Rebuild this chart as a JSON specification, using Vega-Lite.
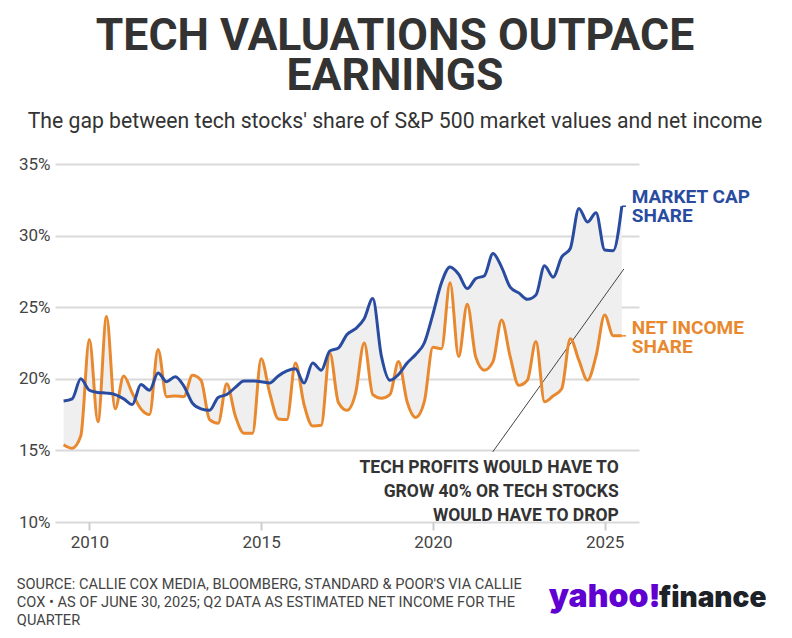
{
  "$schema": "https://vega.github.io/schema/vega-lite/v6.json",
  "autosize": "none",
  "width": 584,
  "height": 358,
  "padding": {"left": 55, "top": 164, "right": 153, "bottom": 116},
  "background": "white",
  "config": {
    "view": {"stroke": null},
    "font": "Roboto",
    "text": {"font": "Roboto"}
  },
  "title": {
    "text": ["TECH VALUATIONS OUTPACE", "EARNINGS"],
    "subtitle": "The gap between tech stocks' share of S&P 500 market values and net income",
    "anchor": "middle",
    "frame": "group",
    "dx": 48,
    "offset": 22,
    "font": "Roboto",
    "fontSize": 44.5,
    "fontWeight": "bold",
    "lineHeight": 40,
    "color": "#333333",
    "subtitleFont": "Roboto",
    "subtitleFontSize": 21.2,
    "subtitleColor": "#333333",
    "subtitlePadding": 11
  },
  "datasets": {
    "shares": [
      {"t": 2009.25, "mcap": 18.45, "ni": 15.4},
      {"t": 2009.5, "mcap": 18.6, "ni": 15.15},
      {"t": 2009.75, "mcap": 20.0, "ni": 16.0},
      {"t": 2010.0, "mcap": 19.2, "ni": 22.75},
      {"t": 2010.25, "mcap": 19.05, "ni": 17.0},
      {"t": 2010.5, "mcap": 19.0, "ni": 24.35},
      {"t": 2010.75, "mcap": 18.9, "ni": 17.9},
      {"t": 2011.0, "mcap": 18.6, "ni": 20.2},
      {"t": 2011.25, "mcap": 18.2, "ni": 19.0},
      {"t": 2011.5, "mcap": 19.6, "ni": 17.9},
      {"t": 2011.75, "mcap": 19.2, "ni": 17.5},
      {"t": 2012.0, "mcap": 20.4, "ni": 22.05},
      {"t": 2012.25, "mcap": 19.8, "ni": 18.75},
      {"t": 2012.5, "mcap": 20.15, "ni": 18.8},
      {"t": 2012.75, "mcap": 19.5, "ni": 18.75},
      {"t": 2013.0, "mcap": 18.3, "ni": 20.25},
      {"t": 2013.25, "mcap": 17.9, "ni": 19.9},
      {"t": 2013.5, "mcap": 17.8, "ni": 17.15},
      {"t": 2013.75, "mcap": 18.7, "ni": 16.9},
      {"t": 2014.0, "mcap": 18.9, "ni": 19.65},
      {"t": 2014.25, "mcap": 19.4, "ni": 17.4},
      {"t": 2014.5, "mcap": 19.85, "ni": 16.2},
      {"t": 2014.75, "mcap": 19.85, "ni": 16.2},
      {"t": 2015.0, "mcap": 19.8, "ni": 21.4},
      {"t": 2015.25, "mcap": 19.7, "ni": 19.0},
      {"t": 2015.5, "mcap": 20.2, "ni": 17.2},
      {"t": 2015.75, "mcap": 20.55, "ni": 17.15},
      {"t": 2016.0, "mcap": 20.7, "ni": 21.1},
      {"t": 2016.25, "mcap": 19.7, "ni": 18.2},
      {"t": 2016.5, "mcap": 21.1, "ni": 16.7},
      {"t": 2016.75, "mcap": 20.6, "ni": 16.75},
      {"t": 2017.0, "mcap": 21.95, "ni": 21.8},
      {"t": 2017.25, "mcap": 22.15, "ni": 18.35},
      {"t": 2017.5, "mcap": 23.1, "ni": 17.8},
      {"t": 2017.75, "mcap": 23.5, "ni": 19.0},
      {"t": 2018.0, "mcap": 24.2, "ni": 22.5},
      {"t": 2018.25, "mcap": 25.6, "ni": 18.9},
      {"t": 2018.5, "mcap": 21.6, "ni": 18.65},
      {"t": 2018.75, "mcap": 19.9, "ni": 18.9},
      {"t": 2019.0, "mcap": 20.3, "ni": 21.2},
      {"t": 2019.25, "mcap": 21.1, "ni": 18.4},
      {"t": 2019.5, "mcap": 21.7, "ni": 17.3},
      {"t": 2019.75, "mcap": 22.5, "ni": 18.4},
      {"t": 2020.0, "mcap": 24.5, "ni": 22.2},
      {"t": 2020.25, "mcap": 26.7, "ni": 22.1},
      {"t": 2020.5, "mcap": 27.8, "ni": 26.7},
      {"t": 2020.75, "mcap": 27.3, "ni": 21.55},
      {"t": 2021.0, "mcap": 26.3, "ni": 25.2},
      {"t": 2021.25, "mcap": 27.0, "ni": 21.5},
      {"t": 2021.5, "mcap": 27.2, "ni": 20.6},
      {"t": 2021.75, "mcap": 28.75, "ni": 21.2},
      {"t": 2022.0, "mcap": 27.8, "ni": 24.1},
      {"t": 2022.25, "mcap": 26.4, "ni": 21.55},
      {"t": 2022.5, "mcap": 26.0, "ni": 19.55},
      {"t": 2022.75, "mcap": 25.55, "ni": 19.9},
      {"t": 2023.0, "mcap": 25.85, "ni": 22.6},
      {"t": 2023.25, "mcap": 27.9, "ni": 18.4},
      {"t": 2023.5, "mcap": 27.1, "ni": 18.8},
      {"t": 2023.75, "mcap": 28.5, "ni": 19.3},
      {"t": 2024.0, "mcap": 29.1, "ni": 22.8},
      {"t": 2024.25, "mcap": 31.9, "ni": 21.3},
      {"t": 2024.5, "mcap": 30.95, "ni": 19.9},
      {"t": 2024.75, "mcap": 31.6, "ni": 21.6},
      {"t": 2025.0, "mcap": 29.0, "ni": 24.45},
      {"t": 2025.25, "mcap": 28.95, "ni": 23.0},
      {"t": 2025.5, "mcap": 32.05, "ni": 23.0}
    ]
  },
  "data": {"name": "shares"},
  "encoding": {
    "x": {
      "field": "t",
      "type": "quantitative",
      "scale": {"domain": [2009, 2026], "nice": false, "zero": false},
      "axis": {
        "title": null,
        "values": [2010, 2015, 2020, 2025],
        "format": "d",
        "grid": false,
        "domain": false,
        "ticks": true,
        "tickSize": 8,
        "tickWidth": 2,
        "tickColor": "#cccccc",
        "labelPadding": 4,
        "labelFont": "Roboto",
        "labelFontSize": 17,
        "labelColor": "#444444"
      }
    }
  },
  "layer": [
    {
      "mark": {"type": "area", "interpolate": "monotone", "color": "#efefef"},
      "encoding": {
        "y": {
          "field": "mcap",
          "type": "quantitative",
          "scale": {"domain": [10, 35], "nice": false, "zero": false},
          "axis": {
            "title": null,
            "values": [10, 15, 20, 25, 30, 35],
            "labelExpr": "datum.value + '%'",
            "grid": true,
            "gridColor": "#d9d9d9",
            "gridWidth": 2,
            "domain": false,
            "ticks": false,
            "labelPadding": 5,
            "labelFont": "Roboto",
            "labelFontSize": 17,
            "labelColor": "#444444"
          }
        },
        "y2": {"field": "ni"}
      }
    },
    {
      "transform": [{"filter": "datum.t == 2025.5"}],
      "mark": {"type": "rule", "color": "#444444", "strokeWidth": 1},
      "encoding": {
        "x": {"datum": 2021.74},
        "y": {"datum": 14.89},
        "x2": {"datum": 2025.56},
        "y2": {"datum": 27.67}
      }
    },
    {
      "mark": {"type": "line", "interpolate": "monotone", "color": "#e8892f", "strokeWidth": 3},
      "encoding": {"y": {"field": "ni", "type": "quantitative"}}
    },
    {
      "mark": {"type": "line", "interpolate": "monotone", "color": "#2a4ca0", "strokeWidth": 3},
      "encoding": {"y": {"field": "mcap", "type": "quantitative"}}
    },
    {
      "transform": [{"filter": "datum.t == 2025.5"}],
      "mark": {"type": "rule", "color": "#2a4ca0", "strokeWidth": 1.5},
      "encoding": {
        "x": {"datum": 2025.5},
        "x2": {"datum": 2025.62},
        "y": {"field": "mcap", "type": "quantitative"}
      }
    },
    {
      "transform": [{"filter": "datum.t == 2025.5"}],
      "mark": {"type": "rule", "color": "#e8892f", "strokeWidth": 1.5},
      "encoding": {
        "x": {"datum": 2025.5},
        "x2": {"datum": 2025.62},
        "y": {"field": "ni", "type": "quantitative"}
      }
    },
    {
      "transform": [{"filter": "datum.t == 2025.5"}],
      "mark": {"type": "text", "align": "left", "baseline": "alphabetic", "fontSize": 19, "fontWeight": "bold", "lineHeight": 19, "color": "#2a4ca0"},
      "encoding": {
        "x": {"datum": 2025.79},
        "y": {"datum": 32.28},
        "text": {"value": ["MARKET CAP", "SHARE"]}
      }
    },
    {
      "transform": [{"filter": "datum.t == 2025.5"}],
      "mark": {"type": "text", "align": "left", "baseline": "alphabetic", "fontSize": 19, "fontWeight": "bold", "lineHeight": 19, "color": "#e8892f"},
      "encoding": {
        "x": {"datum": 2025.79},
        "y": {"datum": 23.13},
        "text": {"value": ["NET INCOME", "SHARE"]}
      }
    },
    {
      "transform": [{"filter": "datum.t == 2025.5"}],
      "mark": {"type": "text", "align": "right", "baseline": "alphabetic", "fontSize": 17.5, "fontWeight": "bold", "lineHeight": 24, "color": "#333333"},
      "encoding": {
        "x": {"datum": 2025.41},
        "y": {"datum": 13.42},
        "text": {"value": ["TECH PROFITS WOULD HAVE TO", "GROW 40% OR TECH STOCKS", "WOULD HAVE TO DROP"]}
      }
    },
    {
      "transform": [{"filter": "datum.t == 2025.5"}],
      "mark": {"type": "text", "align": "left", "baseline": "alphabetic", "font": "Roboto", "fontSize": 14.6, "lineHeight": 18, "color": "#444444"},
      "encoding": {
        "x": {"datum": 2007.89},
        "y": {"datum": 5.32},
        "text": {"value": ["SOURCE: CALLIE COX MEDIA, BLOOMBERG, STANDARD & POOR'S VIA CALLIE", "COX \u2022 AS OF JUNE 30, 2025; Q2 DATA AS ESTIMATED NET INCOME FOR THE", "QUARTER"]}
      }
    },
    {
      "transform": [{"filter": "datum.t == 2025.5"}],
      "mark": {"type": "text", "align": "left", "baseline": "alphabetic", "font": "Inter", "fontSize": 32, "fontWeight": 900, "color": "#6001d2"},
      "encoding": {
        "x": {"datum": 2023.37},
        "y": {"datum": 4.06},
        "text": {"value": "yahoo!"}
      }
    },
    {
      "transform": [{"filter": "datum.t == 2025.5"}],
      "mark": {"type": "text", "align": "left", "baseline": "alphabetic", "font": "Inter", "fontSize": 28, "fontWeight": 900, "color": "#1d2228"},
      "encoding": {
        "x": {"datum": 2026.58},
        "y": {"datum": 4.06},
        "text": {"value": "finance"}
      }
    }
  ]
}
